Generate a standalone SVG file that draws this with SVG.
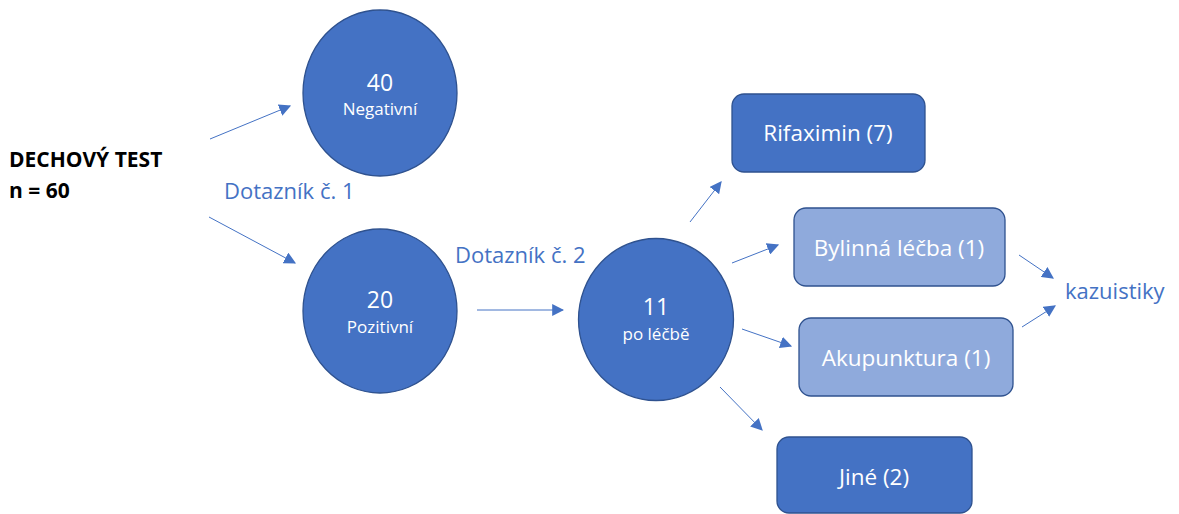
<svg xmlns="http://www.w3.org/2000/svg" width="1179" height="514" viewBox="0 0 1179 514">
<defs>
<style>
.dark{fill:#4472C4;stroke:#2F528F;stroke-width:1.3}
.light{fill:#8FAADC;stroke:#2F528F;stroke-width:1.3}
.wt{fill:#fff;font-family:"Open Sans","Liberation Sans",Arial,sans-serif;text-anchor:middle}
.bx{font-size:22.5px}
.sm{font-size:17px}
.lbl{fill:#4472C4;font-family:"Open Sans","Liberation Sans",Arial,sans-serif;font-size:22px}
.conn line{stroke:#4472C4;stroke-width:1;marker-end:url(#ah)}
</style>
<marker id="ah" viewBox="0 0 10 10" refX="9" refY="5" markerWidth="12" markerHeight="12" markerUnits="userSpaceOnUse" orient="auto">
<path d="M0,0 L10,5 L0,10 z" fill="#4472C4"/>
</marker>
</defs>
<rect width="1179" height="514" fill="#fff"/>
<g id="title" font-family="'Open Sans','Liberation Sans',Arial,sans-serif" font-weight="bold" font-size="21" fill="#000">
<text x="9" y="167">DECHOVÝ TEST</text>
<text x="9" y="198">n = 60</text>
</g>
<g id="negativni">
<ellipse class="dark" cx="380" cy="93" rx="77" ry="83"/>
<text class="wt" x="380" y="91" font-size="23">40</text>
<text class="wt sm" x="380" y="115">Negativní</text>
</g>
<g id="pozitivni">
<ellipse class="dark" cx="380" cy="311" rx="77" ry="82"/>
<text class="wt" x="380" y="308" font-size="23">20</text>
<text class="wt sm" x="380" y="333">Pozitivní</text>
</g>
<g id="po-lecbe">
<ellipse class="dark" cx="656" cy="319.5" rx="77.5" ry="81"/>
<text class="wt" x="656" y="315" font-size="23">11</text>
<text class="wt sm" x="656" y="340">po léčbě</text>
</g>
<g id="rifaximin">
<rect class="dark" x="732" y="94" width="193" height="78" rx="12"/>
<text class="wt bx" x="828" y="141">Rifaximin (7)</text>
</g>
<g id="bylinna">
<rect class="light" x="794" y="208" width="211" height="78" rx="12"/>
<text class="wt bx" x="899" y="256">Bylinná léčba (1)</text>
</g>
<g id="akupunktura">
<rect class="light" x="799" y="318" width="214" height="78" rx="12"/>
<text class="wt bx" x="906" y="366">Akupunktura (1)</text>
</g>
<g id="jine">
<rect class="dark" x="777" y="437" width="195" height="76" rx="12"/>
<text class="wt bx" x="874" y="485">Jiné (2)</text>
</g>
<g id="labels">
<text class="lbl" x="224" y="199">Dotazník č. 1</text>
<text class="lbl" x="455" y="263">Dotazník č. 2</text>
<text class="lbl" x="1065" y="299">kazuistiky</text>
</g>
<g class="conn" id="connectors">
<line x1="210" y1="139" x2="290" y2="106"/>
<line x1="209" y1="217" x2="295" y2="263"/>
<line x1="477" y1="310" x2="563" y2="310"/>
<line x1="690" y1="222" x2="721" y2="182"/>
<line x1="732" y1="263" x2="778" y2="245"/>
<line x1="742" y1="329" x2="791" y2="346"/>
<line x1="720" y1="387" x2="762" y2="430"/>
<line x1="1019" y1="255" x2="1053" y2="278"/>
<line x1="1022" y1="327" x2="1055" y2="306"/>
</g>
</svg>
